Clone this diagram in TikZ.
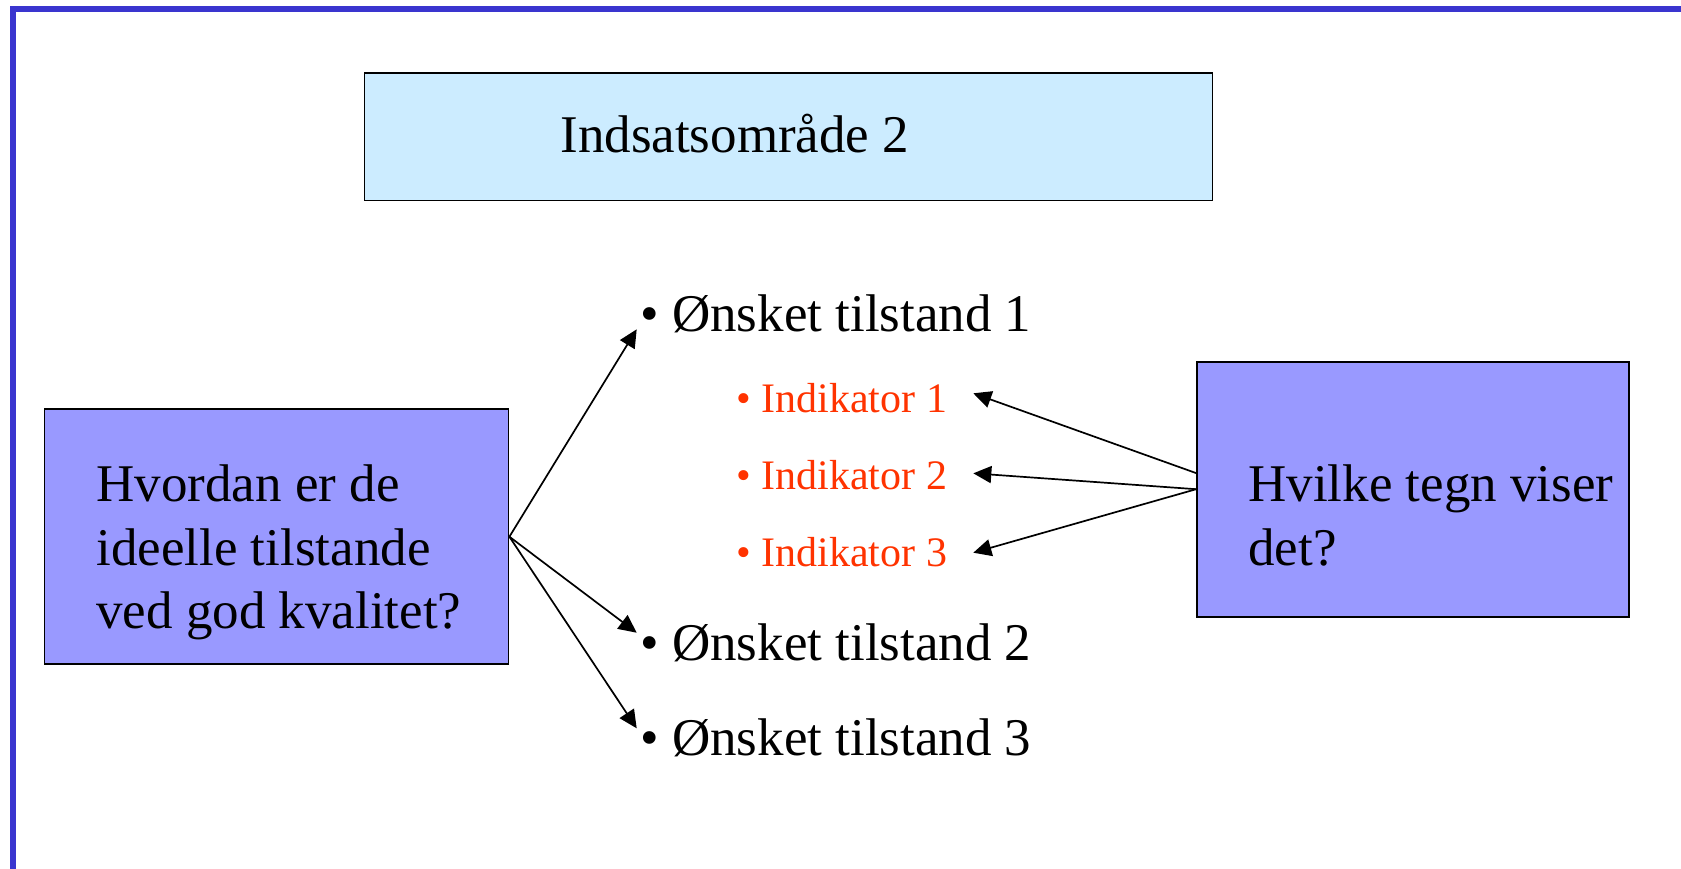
\documentclass[tikz,border=0pt]{standalone}
\usepackage{fontspec}
\setmainfont{Liberation Serif}
\usetikzlibrary{arrows.meta}
\definecolor{frameblue}{HTML}{3A35CF}
\definecolor{lightcyan}{HTML}{CCECFF}
\definecolor{boxviolet}{HTML}{9999FF}
\definecolor{indred}{HTML}{FF3300}
\begin{document}
\begin{tikzpicture}[x=0.5pt,y=-0.5pt,
  box/.style={draw=black, line width=0.9pt, inner sep=0pt},
  big/.style={font=\fontsize{26.5}{31.5}\selectfont, inner sep=0pt, anchor=base west},
  small/.style={font=\fontsize{21}{25}\selectfont, text=indred, inner sep=0pt, anchor=base west},
  arr/.style={line width=0.85pt, -{Triangle[length=9pt,width=8.5pt]}}]
\useasboundingbox (0,0) rectangle (1681,868);
\begin{scope}
  \clip (0,0) rectangle (1681,868);
  \draw[frameblue, line width=3pt] (13,9) rectangle (1740,920);
\end{scope}
% boxes
\node[box, fill=lightcyan, minimum width=424pt, minimum height=63.8pt] (top) at (788.5,136.7) {};
\node[box, fill=boxviolet, minimum width=232pt, minimum height=127.5pt] (L) at (276.5,536.7) {};
\node[box, fill=boxviolet, minimum width=216pt, minimum height=127.5pt] (R) at (1413,489.2) {};
% texts
\node[big] (ttop) at (560,152) {Indsatsområde 2};
\node[big] (l1) at (96,501.7) {Hvordan er de};
\node[big] (l2) at (96,565) {ideelle tilstande};
\node[big] (l3) at (96,628.3) {ved god kvalitet?};
\node[big] (r1) at (1248,501.7) {Hvilke tegn viser};
\node[big] (r2) at (1248,565) {det?};
\node[big] (o1) at (640,331) {• Ønsket tilstand 1};
\node[big] (o2) at (640,660) {• Ønsket tilstand 2};
\node[big] (o3) at (640,755) {• Ønsket tilstand 3};
\node[small] (i1) at (736,412) {• Indikator 1};
\node[small] (i2) at (736,489) {• Indikator 2};
\node[small] (i3) at (736,566) {• Indikator 3};
% arrow ends
\coordinate (a1) at (636.7,329.3);
\coordinate (a2) at (636.7,632.7);
\coordinate (a3) at (636.7,728.3);
\coordinate (b1) at (973.3,393.3);
\coordinate (b2) at (973.3,473.3);
\coordinate (b3) at (973.3,552.7);
\coordinate (rs) at (1196.7,473.3);
% connectors
\draw[arr] (L.east) -- (a1);
\draw[arr] (L.east) -- (a2);
\draw[arr] (L.east) -- (a3);
\draw[arr] (rs) -- (b1);
\draw[arr] (R.west) -- (b2);
\draw[arr] (R.west) -- (b3);
\end{tikzpicture}
\end{document}
